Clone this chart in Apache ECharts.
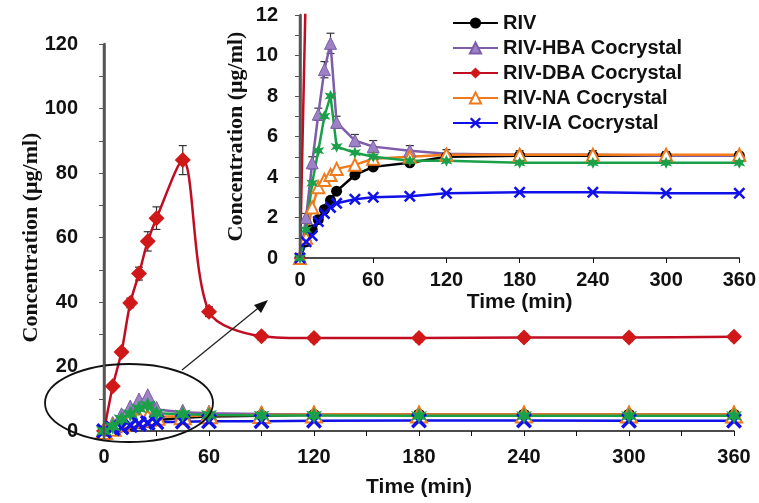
<!DOCTYPE html>
<html>
<head>
<meta charset="utf-8">
<script src="https://cdn.jsdelivr.net/npm/echarts@6/dist/echarts.min.js"></script>
<style>
  html, body { margin: 0; padding: 0; background: #fff; }
  #chart { width: 759px; height: 503px; }
</style>
</head>
<body>
<div id="chart"></div>
<script>
// sampling times (min)
const times = [0, 5, 10, 15, 20, 25, 30, 45, 60, 90, 120, 180, 240, 300, 360]
// concentrations (ug/ml)
const riv = [0, 0.8, 1.4, 1.9, 2.4, 2.85, 3.3, 4.1, 4.5, 4.7, 5.0, 5.05, 5.05, 5.05, 5.05]
const hba = [0, 2.0, 4.7, 7.1, 9.3, 10.6, 6.7, 5.8, 5.5, 5.3, 5.15, 5.1, 5.1, 5.05, 5.05]
const dba = [0, 13.9, 24.5, 39.7, 48.8, 58.8, 66, 84, 37, 29.4, 28.8, 28.8, 29, 29, 29.2]
const na = [0, 1.0, 2.5, 3.5, 3.85, 4.1, 4.4, 4.6, 4.9, 5.0, 5.1, 5.1, 5.1, 5.1, 5.1]
const ia = [0, 0.8, 1.1, 1.8, 2.2, 2.5, 2.7, 2.9, 3.0, 3.05, 3.2, 3.25, 3.25, 3.2, 3.2]
const other = [0, 1.4, 3.7, 5.3, 7.0, 8.0, 5.5, 5.2, 5.0, 4.8, 4.8, 4.7, 4.7, 4.7, 4.7]
// error bars (sd)
const dbaErr = [0, 1, 1, 1.5, 2, 3, 3.5, 4.5, 1.5, 1.2, 1.2, 1.2, 1.2, 1.2, 1.2]
const hbaErr = [0, 0.2, 0.3, 0.3, 0.4, 0.5, 0.3, 0.3, 0.3, 0.25, 0.2, 0.2, 0.2, 0.2, 0.2]

const legendNames = ['RIV', 'RIV-HBA Cocrystal', 'RIV-DBA Cocrystal', 'RIV-NA Cocrystal', 'RIV-IA Cocrystal']

const pair = arr => times.map((t, i) => [t, arr[i]])
const STAR = 'path://M0,-10 L2.6,-4 L9,-6 L5,0 L9,6 L2.6,4 L0,10 L-2.6,4 L-9,6 L-5,0 L-9,-6 L-2.6,-4 Z'
const CROSS = 'path://M-10,-7 L-7,-10 L0,-3 L7,-10 L10,-7 L3,0 L10,7 L7,10 L0,3 L-7,10 L-10,7 L-3,0 Z'

const styles = [
    { name: legendNames[0], data: riv, color: '#000', symbol: 'circle', item: { color: '#000' } },
    { name: legendNames[1], data: hba, color: '#7d5ca8', symbol: 'triangle', item: { color: '#9c82c4', borderColor: '#7d5ca8', borderWidth: 1 } },
    { name: legendNames[2], data: dba, color: '#c00d22', symbol: 'diamond', item: { color: '#d01818' } },
    { name: legendNames[3], data: na, color: '#f07a1c', symbol: 'triangle', item: { color: '#fff', borderColor: '#f07a1c', borderWidth: 2 } },
    { name: legendNames[4], data: ia, color: '#1010e8', symbol: CROSS, item: { color: '#1010e8' } },
    { name: 'other', data: other, color: '#1aa048', symbol: STAR, item: { color: '#1aa048' } }
]

const tickFont = { fontFamily: 'Liberation Sans, Arial', fontWeight: 'bold', fontSize: 20, color: '#111' }
const yName = { fontFamily: 'Liberation Serif, Times New Roman', fontWeight: 'bold', fontSize: 22, color: '#111' }
const xName = { fontFamily: 'Liberation Sans, Arial', fontWeight: 'bold', fontSize: 21, color: '#111' }

const mainGrid = { left: 104, top: 44, right: 25, bottom: 63 }
const insetGrid = { left: 300, top: 15, width: 440, height: 243 }

function errSeries(xi, yi, vals, errs) {
    return {
        type: 'custom',
        xAxisIndex: xi,
        yAxisIndex: yi,
        clip: true,
        z: 1,
        silent: true,
        data: times.map((t, i) => [t, vals[i], errs[i]]),
        renderItem: function (params, api) {
            const t = api.value(0), v = api.value(1), e = api.value(2)
            if (!e) return
            const hi = api.coord([t, v + e])
            const lo = api.coord([t, v - e])
            const st = { stroke: '#333', lineWidth: 1.2 }
            return {
                type: 'group',
                children: [
                    { type: 'line', shape: { x1: hi[0], y1: hi[1], x2: lo[0], y2: lo[1] }, style: st },
                    { type: 'line', shape: { x1: hi[0] - 4, y1: hi[1], x2: hi[0] + 4, y2: hi[1] }, style: st },
                    { type: 'line', shape: { x1: lo[0] - 4, y1: lo[1], x2: lo[0] + 4, y2: lo[1] }, style: st }
                ]
            }
        }
    }
}

const series = []
styles.forEach(s => {
    // main plot
    series.push({
        name: s.name, type: 'line', xAxisIndex: 0, yAxisIndex: 0,
        data: pair(s.data), symbol: s.symbol, symbolSize: s.symbol === 'circle' ? 12 : 16,
        smooth: s.name === legendNames[2] ? 0.3 : false,
        lineStyle: { color: s.color, width: 2.5 }, itemStyle: s.item, z: 3
    })
    // inset plot
    series.push({
        name: s.name, type: 'line', xAxisIndex: 1, yAxisIndex: 1,
        data: pair(s.data), symbol: s.symbol, symbolSize: s.symbol === 'circle' ? 11 : 12,
        lineStyle: { color: s.color, width: 2.5 }, itemStyle: s.item, z: 3
    })
})
series.push(errSeries(0, 0, dba, dbaErr))
series.push(errSeries(1, 1, hba, hbaErr))

const myChart = echarts.init(document.getElementById('chart'))
myChart.setOption({
    animation: false,
    backgroundColor: '#fff',
    grid: [mainGrid, insetGrid],
    legend: {
        data: legendNames,
        orient: 'vertical',
        left: 447,
        top: 8,
        itemWidth: 45,
        itemHeight: 14,
        itemGap: 5,
        textStyle: { fontFamily: 'Liberation Sans, Arial', fontWeight: 'bold', fontSize: 20, color: '#111', lineHeight: 20 }
    },
    xAxis: [
        {
            type: 'value', gridIndex: 0, min: 0, max: 360, interval: 30,
            name: 'Time (min)', nameLocation: 'middle', nameGap: 46, nameTextStyle: xName, nameMoveOverlap: false,
            axisLine: { lineStyle: { color: '#111', width: 1.5 } },
            axisTick: { show: true, length: 5, lineStyle: { color: '#111' } },
            axisLabel: { ...tickFont, margin: 16, formatter: v => v % 60 === 0 ? v : '' },
            splitLine: { show: false }
        },
        {
            type: 'value', gridIndex: 1, min: 0, max: 360, interval: 60,
            name: 'Time (min)', nameLocation: 'middle', nameGap: 34, nameTextStyle: xName, nameMoveOverlap: false,
            axisLine: { lineStyle: { color: '#111', width: 1.5 } },
            axisTick: { show: true, length: 5, lineStyle: { color: '#111' } },
            axisLabel: { ...tickFont, margin: 12 },
            splitLine: { show: false }
        }
    ],
    yAxis: [
        {
            type: 'value', gridIndex: 0, min: 0, max: 120, interval: 10,
            name: 'Concentration (μg/ml)', nameLocation: 'middle', nameGap: 62, nameTextStyle: yName, nameMoveOverlap: false,
            axisLine: { show: true, lineStyle: { color: '#555', width: 2.5 } },
            axisTick: { show: true, length: 5, lineStyle: { color: '#555' } },
            axisLabel: { ...tickFont, margin: 26, formatter: v => v % 20 === 0 ? v : '' },
            splitLine: { show: false }
        },
        {
            type: 'value', gridIndex: 1, min: 0, max: 12, interval: 1,
            name: 'Concentration (μg/ml)', nameLocation: 'middle', nameGap: 53, nameTextStyle: yName, nameMoveOverlap: false,
            axisLine: { show: true, lineStyle: { color: '#555', width: 2.5 } },
            axisTick: { show: true, length: 5, lineStyle: { color: '#555' } },
            axisLabel: { ...tickFont, margin: 22, formatter: v => v % 2 === 0 ? v : '' },
            splitLine: { show: false }
        }
    ],
    series: series
})

// vertical axis lines drawn again along the left edge of each grid
const mainBottom = 503 - mainGrid.bottom
const edgeLine = (x, y1, y2) => ({
    type: 'line', shape: { x1: x, y1: y1, x2: x, y2: y2 },
    style: { stroke: '#555', lineWidth: 2.5 }, z: 20
})

myChart.setOption({
    graphic: [
        edgeLine(mainGrid.left, mainGrid.top, mainBottom),
        edgeLine(insetGrid.left, insetGrid.top, insetGrid.top + insetGrid.height),
        // zoom annotation: ellipse round the early region and arrow to the inset
        { type: 'ellipse', shape: { cx: 129, cy: 403, rx: 84, ry: 39 }, style: { fill: 'none', stroke: '#111', lineWidth: 1.8 }, z: 10 },
        { type: 'line', shape: { x1: 182, y1: 370, x2: 262, y2: 305 }, style: { stroke: '#222', lineWidth: 1.3 }, z: 10 },
        { type: 'polygon', shape: { points: [[268, 300], [254, 305], [261, 313]] }, style: { fill: '#111' }, z: 10 }
    ]
})
</script>
</body>
</html>
